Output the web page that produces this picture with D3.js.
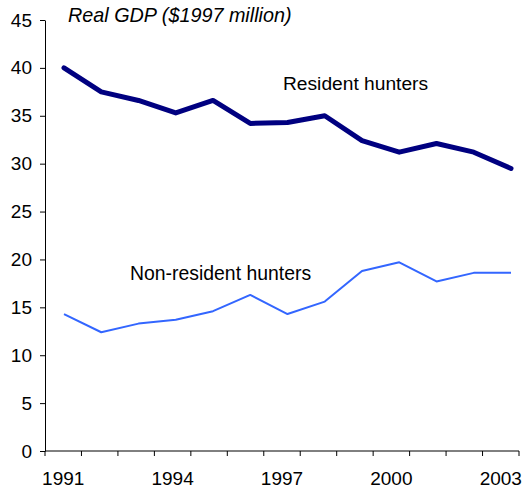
<!DOCTYPE html>
<html>
<head>
<meta charset="utf-8">
<script src="https://cdn.jsdelivr.net/npm/d3@7"></script>
<style>
  body { margin: 0; background: #fff; }
  svg text { font-family: Arial, "Liberation Sans", sans-serif; fill: #000; }
</style>
</head>
<body>
<div id="chart"></div>
<script>
// Chart data
const years = [1991, 1992, 1993, 1994, 1995, 1996, 1997, 1998, 1999, 2000, 2001, 2002, 2003];
const residentHunters = [40.0, 37.5, 36.6, 35.3, 36.6, 34.2, 34.3, 35.0, 32.4, 31.2, 32.1, 31.2, 29.5];
const nonResidentHunters = [14.3, 12.4, 13.3, 13.7, 14.6, 16.3, 14.3, 15.6, 18.8, 19.7, 17.7, 18.6, 18.6];
const yTicks = [0, 5, 10, 15, 20, 25, 30, 35, 40, 45];
const xTickLabels = [1991, 1994, 1997, 2000, 2003];
const yTitle = 'Real GDP ($1997 million)';

const width = 532, height = 491;
const margin = { top: 20, right: 13, bottom: 40, left: 45 };
const plotW = width - margin.left - margin.right;
const plotH = height - margin.top - margin.bottom;

const svg = d3.select('#chart')
    .append('svg')
    .attr('width', width)
    .attr('height', height);

const g = svg.append('g')
    .attr('transform', `translate(${margin.left},${margin.top})`);

// Category scale for axis ticks/labels
const xBand = d3.scaleBand()
    .domain(years)
    .range([0, plotW])
    .padding(0);

// Line positions (Excel-style spacing drifts a bit from tick spacing)
const xLine = d3.scalePoint()
    .domain(years)
    .range([19, 466]);

const y = d3.scaleLinear()
    .domain([0, 45])
    .range([plotH, 0]);

// Y axis
const yAxis = g.append('g')
    .call(d3.axisLeft(y).tickValues(yTicks).tickSize(5).tickPadding(8).tickSizeOuter(0));
yAxis.selectAll('text').style('font-size', '19px');
yAxis.select('.domain').attr('stroke', '#000');
yAxis.selectAll('.tick line').attr('stroke', '#000');

// X axis: tick marks on category boundaries
const xAxisG = g.append('g')
    .attr('transform', `translate(0,${plotH})`);
xAxisG.append('line')
    .attr('x1', 0).attr('x2', plotW)
    .attr('stroke', '#000');
const boundaries = years.map(d => xBand(d)).concat([plotW]);
xAxisG.selectAll('.xtick')
    .data(boundaries)
    .enter()
    .append('line')
    .attr('x1', d => d).attr('x2', d => d)
    .attr('y1', 0).attr('y2', 5)
    .attr('stroke', '#000');
xAxisG.selectAll('.xlabel')
    .data(xTickLabels)
    .enter()
    .append('text')
    .attr('x', d => xBand(d) + xBand.bandwidth() / 2)
    .attr('y', 34)
    .attr('text-anchor', 'middle')
    .style('font-size', '19px')
    .text(d => d);

// Title
svg.append('text')
    .attr('x', 68)
    .attr('y', 22)
    .style('font-size', '19.8px')
    .style('font-style', 'italic')
    .text(yTitle);

// Lines
const line = d3.line()
    .x((d, i) => xLine(years[i]))
    .y(d => y(d));

g.append('path')
    .datum(nonResidentHunters)
    .attr('fill', 'none')
    .attr('stroke', '#3366ff')
    .attr('stroke-width', 2)
    .attr('stroke-linejoin', 'round')
    .attr('d', line);

g.append('path')
    .datum(residentHunters)
    .attr('fill', 'none')
    .attr('stroke', '#000080')
    .attr('stroke-width', 5)
    .attr('stroke-linejoin', 'round')
    .attr('stroke-linecap', 'round')
    .attr('d', line);

// Series labels
svg.append('text')
    .attr('x', 283)
    .attr('y', 90)
    .style('font-size', '19.2px')
    .text('Resident hunters');

svg.append('text')
    .attr('x', 130)
    .attr('y', 280)
    .style('font-size', '19.4px')
    .text('Non-resident hunters');
</script>
</body>
</html>
